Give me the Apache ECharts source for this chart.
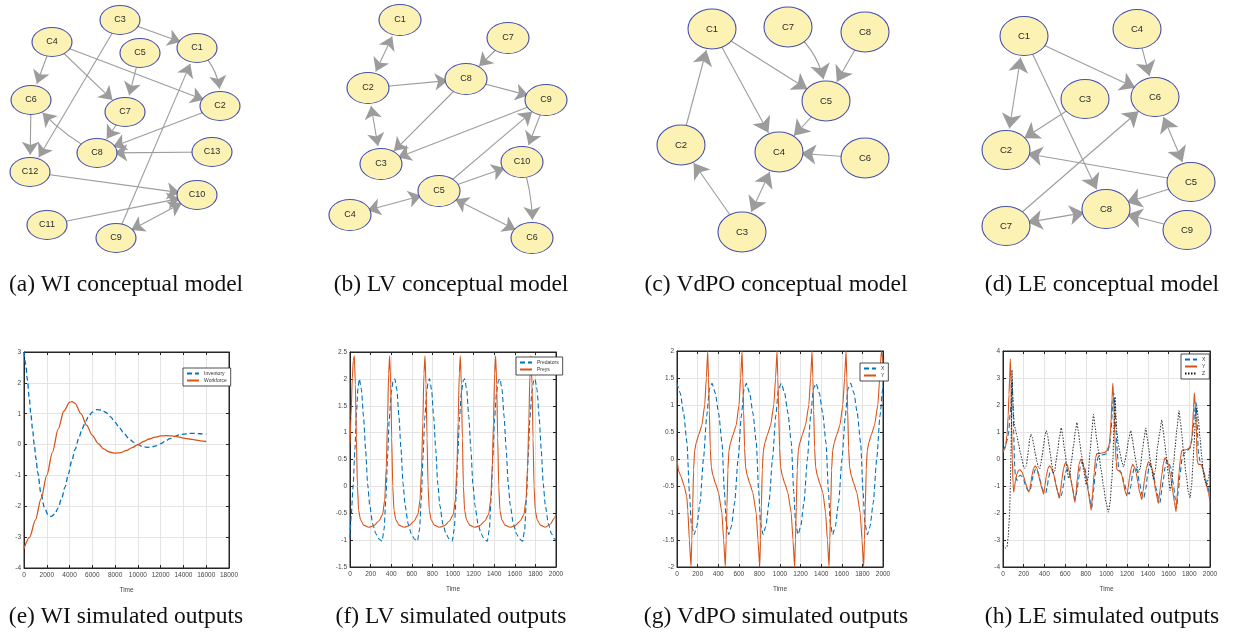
<!DOCTYPE html>
<html><head><meta charset="utf-8">
<script src="https://cdn.jsdelivr.net/npm/echarts@6/dist/echarts.min.js"></script>
<style>html,body{margin:0;padding:0;background:#fff}#c{width:1246px;height:637px}</style>
</head><body><div id="c"></div><script>
// ---------- conceptual model graphs: [name, layoutX, layoutY] ----------
const wiNodes = [['C1',197,48],['C2',220,106],['C3',120,20],['C4',52,42],['C5',140,53],['C6',31,100],['C7',125,112],['C8',97,153],['C9',116,238],['C10',197,195],['C11',47,225],['C12',30,172],['C13',212,152]];
// [source, target, bidirectional?, curveness]
const wiLinks = [['C3','C1'],['C3','C12'],['C4','C6'],['C4','C7'],['C4','C2'],['C5','C7'],['C1','C2',0,0.25],['C6','C12'],['C8','C6',0,0.1],['C7','C8'],['C2','C8'],['C13','C8'],['C12','C10'],['C11','C10'],['C9','C10',1],['C9','C1']];
const lvNodes = [['C1',80,20],['C2',48,88],['C3',61,164],['C4',30,215],['C5',119,191],['C6',212,238],['C7',188,38],['C8',146,79],['C9',226,100],['C10',202,162]];
const lvLinks = [['C1','C2',1],['C2','C3',1],['C2','C8'],['C7','C8'],['C8','C9'],['C8','C3'],['C9','C3'],['C9','C10'],['C5','C9'],['C5','C10'],['C4','C5',1],['C5','C6',1],['C10','C6',0,0.1]];
const vdpNodes = [['C1',72,29],['C2',41,145],['C3',102,232],['C4',139,152],['C5',186,101],['C6',225,158],['C7',148,27],['C8',225,32]];
const vdpLinks = [['C2','C1'],['C1','C5'],['C1','C4'],['C7','C5',0,0.25],['C8','C5'],['C5','C4'],['C6','C4'],['C3','C2'],['C3','C4',1]];
const leNodes = [['C1',54,36],['C2',36,150],['C3',115,99],['C4',167,29],['C5',221,182],['C6',185,97],['C7',36,226],['C8',136,209],['C9',217,230]];
const leLinks = [['C1','C2',1],['C1','C6'],['C1','C8'],['C4','C6'],['C3','C2'],['C7','C6'],['C6','C5',1],['C5','C2'],['C5','C8'],['C7','C8',1],['C9','C8']];

// ---------- simulated outputs: [time, value] ----------
const wiInventory = [[0,3.0],[150,2.6],[300,2.1],[450,1.55],[600,1.0],[750,0.5],[900,0.0],[1050,-0.45],[1200,-0.9],[1500,-1.6],[1800,-2.05],[2100,-2.27],[2400,-2.33],[2700,-2.25],[3000,-2.05],[3300,-1.75],[3600,-1.38],[3900,-0.95],[4200,-0.52],[4500,-0.15],[4800,0.2],[5100,0.5],[5400,0.75],[5700,0.93],[6000,1.05],[6400,1.13],[6800,1.12],[7200,1.04],[7600,0.9],[8000,0.72],[8400,0.53],[8800,0.35],[9200,0.2],[9600,0.08],[10000,0.0],[10400,-0.06],[10800,-0.09],[11200,-0.08],[11600,-0.04],[12000,0.03],[12400,0.11],[12800,0.19],[13200,0.26],[13600,0.31],[14000,0.34],[14500,0.36],[15000,0.36],[15500,0.35],[16000,0.34]];
const wiWorkforce = [[0,-3.37],[500,-3.0],[1000,-2.45],[1500,-1.75],[2000,-1.0],[2500,-0.25],[3000,0.5],[3500,1.08],[4000,1.37],[4200,1.39],[4500,1.33],[5000,1.0],[5500,0.62],[6000,0.3],[6500,0.04],[7000,-0.14],[7500,-0.24],[8000,-0.28],[8500,-0.26],[9000,-0.19],[9500,-0.1],[10000,0.0],[10500,0.1],[11000,0.18],[11500,0.24],[12000,0.28],[12500,0.29],[13000,0.28],[13500,0.25],[14000,0.21],[14500,0.18],[15000,0.15],[15500,0.12],[16000,0.1]];

const lvPredators = [[0,-0.95],[12,-0.55],[30,0.0],[48,0.7],[64,1.4],[78,1.85],[91,2.0],
[111,1.8],[131,1.3],[151,0.7],[171,0.05],[191,-0.35],[221,-0.7],[251,-0.88],[281,-0.98],[311,-1.02],[331,-0.8],[349,-0.2],[365,0.55],[381,1.25],[401,1.75],[419,1.97],[435,2.0],
[455,1.8],[475,1.3],[495,0.7],[515,0.05],[535,-0.35],[565,-0.7],[595,-0.88],[625,-0.98],[655,-1.02],[675,-0.8],[693,-0.2],[709,0.55],[725,1.25],[745,1.75],[760,1.97],[772,2.0],
[792,1.8],[812,1.3],[832,0.7],[852,0.05],[872,-0.35],[902,-0.7],[932,-0.88],[962,-0.98],[992,-1.02],[1012,-0.8],[1030,-0.2],[1046,0.55],[1062,1.25],[1082,1.75],[1100,1.97],[1113,2.0],
[1133,1.8],[1153,1.3],[1173,0.7],[1193,0.05],[1213,-0.35],[1243,-0.7],[1273,-0.88],[1303,-0.98],[1333,-1.02],[1353,-0.8],[1371,-0.2],[1387,0.55],[1403,1.25],[1423,1.75],[1441,1.97],[1456,2.0],
[1476,1.8],[1496,1.3],[1516,0.7],[1536,0.05],[1556,-0.35],[1586,-0.7],[1616,-0.88],[1646,-0.98],[1676,-1.02],[1696,-0.8],[1714,-0.2],[1730,0.55],[1746,1.25],[1766,1.75],[1783,1.97],[1796,2.0],
[1816,1.8],[1836,1.3],[1856,0.7],[1876,0.05],[1896,-0.35],[1926,-0.7],[1956,-0.88],[1986,-0.98],[2000,-1.0]];
const lvPreys = [[0,0.8],[10,1.3],[22,2.0],[32,2.35],[42,2.43],
[52,1.9],[62,0.9],[72,0.0],[84,-0.45],[102,-0.62],[132,-0.72],[182,-0.76],[232,-0.73],[282,-0.64],[317,-0.52],[337,-0.25],[352,0.35],[364,1.2],[375,2.1],[385,2.43],
[395,1.9],[405,0.9],[415,0.0],[427,-0.45],[445,-0.62],[475,-0.72],[525,-0.76],[575,-0.73],[625,-0.64],[660,-0.52],[680,-0.25],[695,0.35],[707,1.2],[718,2.1],[728,2.43],
[738,1.9],[748,0.9],[758,0.0],[770,-0.45],[788,-0.62],[818,-0.72],[868,-0.76],[918,-0.73],[968,-0.64],[1003,-0.52],[1023,-0.25],[1038,0.35],[1050,1.2],[1061,2.1],[1071,2.43],
[1081,1.9],[1091,0.9],[1101,0.0],[1113,-0.45],[1131,-0.62],[1161,-0.72],[1211,-0.76],[1261,-0.73],[1311,-0.64],[1346,-0.52],[1366,-0.25],[1381,0.35],[1393,1.2],[1404,2.1],[1414,2.43],
[1424,1.9],[1434,0.9],[1444,0.0],[1456,-0.45],[1474,-0.62],[1504,-0.72],[1554,-0.76],[1604,-0.73],[1654,-0.64],[1689,-0.52],[1709,-0.25],[1724,0.35],[1736,1.2],[1747,2.1],[1757,2.43],
[1767,1.9],[1777,0.9],[1787,0.0],[1799,-0.45],[1817,-0.62],[1847,-0.72],[1897,-0.76],[1947,-0.7],[1980,-0.6],[2000,-0.52]];

const vdpX = [[0,1.4],[32,1.22],[64,0.85],[97,0.3],[120,-0.6],[139,-1.2],[166,-1.4],
[192,-1.25],[224,-0.8],[257,0.0],[289,0.8],[315,1.3],[340,1.4],
[372,1.22],[404,0.85],[437,0.3],[460,-0.6],[479,-1.2],[502,-1.4],
[528,-1.25],[560,-0.8],[593,0.0],[625,0.8],[651,1.3],[673,1.4],
[705,1.22],[737,0.85],[770,0.3],[793,-0.6],[812,-1.2],[836,-1.4],
[862,-1.25],[894,-0.8],[927,0.0],[959,0.8],[985,1.3],[1013,1.4],
[1045,1.22],[1077,0.85],[1110,0.3],[1133,-0.6],[1152,-1.2],[1175,-1.4],
[1201,-1.25],[1233,-0.8],[1266,0.0],[1298,0.8],[1324,1.3],[1350,1.4],
[1382,1.22],[1414,0.85],[1447,0.3],[1470,-0.6],[1489,-1.2],[1511,-1.4],
[1537,-1.25],[1569,-0.8],[1602,0.0],[1634,0.8],[1660,1.3],[1686,1.4],
[1718,1.22],[1750,0.85],[1783,0.3],[1806,-0.6],[1825,-1.2],[1848,-1.4],
[1874,-1.25],[1906,-0.8],[1939,0.0],[1971,0.8],[1997,1.3],[2000,1.32]];
const vdpY = [[0,0.0],[15,-0.22],[40,-0.33],[70,-0.5],[95,-0.7],[105,-0.95],[120,-1.5],[136,-2.0],
[144,-1.5],[152,-0.9],[161,-0.2],[171,0.15],[186,0.3],[211,0.45],[241,0.62],[269,1.0],[285,1.5],[298,2.0],
[306,1.5],[314,0.9],[323,0.2],[333,-0.15],[348,-0.3],[373,-0.45],[403,-0.62],[436,-1.0],[453,-1.5],[469,-2.0],
[477,-1.5],[485,-0.9],[494,-0.2],[504,0.15],[519,0.3],[544,0.45],[574,0.62],[602,1.0],[618,1.5],[631,2.0],
[639,1.5],[647,0.9],[656,0.2],[666,-0.15],[681,-0.3],[706,-0.45],[736,-0.62],[769,-1.0],[786,-1.5],[803,-2.0],
[811,-1.5],[819,-0.9],[828,-0.2],[838,0.15],[853,0.3],[878,0.45],[908,0.62],[940,1.0],[957,1.5],[971,2.0],
[979,1.5],[987,0.9],[996,0.2],[1006,-0.15],[1021,-0.3],[1046,-0.45],[1076,-0.62],[1109,-1.0],[1126,-1.5],[1142,-2.0],
[1150,-1.5],[1158,-0.9],[1167,-0.2],[1177,0.15],[1192,0.3],[1217,0.45],[1247,0.62],[1280,1.0],[1297,1.5],[1311,2.0],
[1319,1.5],[1327,0.9],[1336,0.2],[1346,-0.15],[1361,-0.3],[1386,-0.45],[1416,-0.62],[1443,-1.0],[1460,-1.5],[1476,-2.0],
[1484,-1.5],[1492,-0.9],[1501,-0.2],[1511,0.15],[1526,0.3],[1551,0.45],[1581,0.62],[1610,1.0],[1627,1.5],[1641,2.0],
[1649,1.5],[1657,0.9],[1666,0.2],[1676,-0.15],[1691,-0.3],[1716,-0.45],[1746,-0.62],[1779,-1.0],[1796,-1.5],[1812,-2.0],
[1820,-1.5],[1828,-0.9],[1837,-0.2],[1847,0.15],[1862,0.3],[1887,0.45],[1917,0.62],[1950,1.0],[1968,1.5],[1984,2.0],[2000,1.8]];

const leX = [[0,0.3],[20,0.45],[40,0.7],[55,1.0],[70,1.7],[77,2.0],[87,2.9],[95,2.2],[103,1.0],[112,-0.2],[119,-0.6],[135,-0.8],[150,-0.65],[167,-0.6],[185,-0.65],[199,-0.75],[220,-1.0],[238,-1.15],[250,-1.2],[264,-1.15],[280,-0.8],[296,-0.55],[312,-0.38],[328,-0.38],[345,-0.55],[360,-0.8],[380,-1.1],[399,-1.25],[415,-1.25],[428,-1.0],[440,-0.7],[456,-0.45],[473,-0.42],[489,-0.55],[505,-0.8],[530,-1.25],[553,-1.45],[568,-1.3],[585,-0.95],[600,-0.55],[617,-0.38],[633,-0.42],[649,-0.6],[670,-1.05],[690,-1.45],[698,-1.5],[714,-1.2],[730,-0.75],[746,-0.3],[762,-0.12],[780,-0.2],[804,-0.55],[830,-1.3],[850,-1.75],[858,-1.8],[874,-1.2],[890,-0.6],[906,-0.1],[923,0.1],[950,0.15],[980,0.17],[1003,0.2],[1030,0.5],[1045,1.1],[1058,1.9],[1070,2.45],[1080,2.0],[1093,1.0],[1105,0.2],[1116,-0.3],[1132,-0.45],[1148,-0.55],[1170,-0.9],[1196,-1.2],[1219,-1.3],[1235,-1.0],[1250,-0.6],[1266,-0.35],[1280,-0.3],[1296,-0.45],[1320,-0.9],[1345,-1.35],[1360,-1.45],[1380,-1.1],[1398,-0.55],[1415,-0.2],[1430,-0.3],[1450,-0.5],[1480,-1.1],[1505,-1.5],[1518,-1.6],[1535,-1.1],[1550,-0.75],[1566,-0.3],[1582,-0.05],[1600,-0.15],[1620,-0.3],[1645,-0.9],[1665,-1.5],[1678,-1.8],[1693,-1.2],[1710,-0.6],[1730,0.0],[1749,0.2],[1775,0.3],[1807,0.4],[1825,0.7],[1839,1.2],[1852,1.8],[1865,2.1],[1876,1.3],[1887,0.3],[1900,-0.05],[1915,-0.15],[1942,-0.5],[1974,-1.0],[2000,-1.4]];
const leY = [[0,0.25],[22,0.4],[39,0.9],[50,1.6],[58,2.4],[64,3.0],[71,3.7],[77,2.8],[82,1.5],[90,0.0],[97,-0.9],[103,-1.23],[111,-1.05],[120,-0.8],[135,-0.55],[150,-0.42],[165,-0.4],[183,-0.48],[200,-0.65],[215,-0.85],[232,-1.05],[248,-1.22],[258,-1.15],[268,-0.9],[280,-0.6],[295,-0.35],[312,-0.25],[328,-0.35],[344,-0.6],[360,-0.85],[376,-1.1],[392,-1.3],[405,-1.0],[418,-0.65],[434,-0.35],[450,-0.25],[470,-0.35],[489,-0.55],[505,-0.85],[521,-1.12],[543,-1.45],[555,-1.2],[569,-0.75],[585,-0.35],[601,-0.15],[617,-0.2],[633,-0.35],[655,-0.75],[675,-1.15],[694,-1.6],[705,-1.3],[720,-0.65],[735,-0.2],[752,0.0],[768,-0.1],[784,-0.35],[805,-0.75],[826,-1.25],[840,-1.6],[852,-1.9],[865,-1.3],[881,-0.5],[895,0.05],[907,0.2],[930,0.2],[955,0.22],[980,0.24],[1003,0.3],[1020,0.45],[1029,0.6],[1038,1.0],[1045,1.5],[1053,2.2],[1061,2.8],[1068,2.3],[1074,1.6],[1080,0.9],[1087,0.3],[1094,-0.1],[1100,-0.38],[1112,-0.42],[1125,-0.45],[1138,-0.5],[1148,-0.6],[1165,-0.9],[1180,-1.2],[1196,-1.37],[1210,-1.05],[1222,-0.7],[1238,-0.35],[1254,-0.2],[1270,-0.3],[1286,-0.5],[1303,-0.85],[1318,-1.2],[1341,-1.5],[1353,-1.2],[1366,-0.8],[1385,-0.35],[1405,-0.1],[1421,-0.15],[1437,-0.3],[1456,-0.7],[1476,-1.2],[1501,-1.65],[1515,-1.2],[1534,-0.6],[1550,-0.15],[1566,0.05],[1582,-0.05],[1598,-0.2],[1620,-0.65],[1640,-1.2],[1656,-1.6],[1672,-1.95],[1686,-1.2],[1701,-0.5],[1714,0.0],[1726,0.3],[1750,0.33],[1775,0.35],[1795,0.4],[1813,0.5],[1825,0.8],[1833,1.3],[1841,1.9],[1849,2.45],[1857,2.0],[1865,1.5],[1870,0.8],[1875,0.0],[1882,-0.15],[1890,-0.2],[1905,-0.2],[1919,-0.22],[1935,-0.4],[1951,-0.7],[1968,-1.0],[1985,-1.25],[2000,-1.6]];
const leZ = [[0,-3.2],[20,-3.3],[39,-3.25],[50,-2.9],[58,-2.4],[64,-2.0],[71,-1.0],[77,0.2],[82,1.5],[87,3.3],[93,2.5],[100,1.7],[110,1.3],[119,1.1],[135,0.85],[151,0.55],[167,0.25],[183,0.0],[199,-0.3],[212,-0.35],[225,-0.25],[238,0.1],[248,0.4],[258,0.75],[270,0.92],[283,0.8],[296,0.55],[312,0.2],[328,-0.1],[341,-0.3],[354,-0.37],[366,-0.15],[380,0.15],[392,0.5],[405,0.85],[418,1.05],[430,0.9],[444,0.55],[457,0.2],[473,-0.25],[489,-0.52],[500,-0.45],[514,-0.05],[527,0.3],[545,0.8],[563,1.15],[578,0.85],[590,0.45],[601,0.2],[617,-0.3],[633,-0.72],[646,-0.6],[660,-0.1],[682,0.5],[698,1.0],[714,1.35],[728,1.05],[742,0.6],[756,0.2],[780,-0.45],[804,-0.95],[820,-0.75],[842,0.3],[858,1.0],[874,1.65],[890,1.2],[906,0.7],[923,0.3],[947,-0.4],[971,-1.0],[995,-1.6],[1019,-1.97],[1035,-1.6],[1051,-0.8],[1062,0.0],[1072,1.2],[1083,2.3],[1092,1.6],[1100,1.0],[1116,0.5],[1132,0.2],[1148,-0.1],[1164,-0.3],[1180,-0.05],[1196,0.3],[1215,0.75],[1235,1.05],[1250,0.75],[1263,0.4],[1276,0.1],[1292,-0.25],[1309,-0.5],[1325,-0.35],[1350,0.4],[1365,0.8],[1379,1.15],[1395,0.75],[1408,0.4],[1421,0.0],[1437,-0.4],[1453,-0.75],[1470,-0.45],[1495,0.5],[1515,1.0],[1534,1.45],[1550,1.0],[1562,0.6],[1575,0.2],[1595,-0.5],[1614,-1.17],[1630,-0.9],[1650,-0.1],[1662,0.4],[1680,1.1],[1701,1.79],[1715,1.35],[1728,0.9],[1743,0.3],[1770,-0.6],[1790,-1.2],[1807,-1.44],[1822,-1.0],[1835,-0.2],[1845,0.5],[1858,1.4],[1871,1.98],[1887,1.5],[1903,0.8],[1920,0.1],[1935,-0.5],[1952,-0.85],[1968,-1.0],[1985,-0.7],[2000,-0.3]];

const topCaptions = ['(a) WI conceptual model','(b) LV conceptual model','(c) VdPO conceptual model','(d) LE conceptual model'];
const bottomCaptions = ['(e) WI simulated outputs','(f) LV simulated outputs','(g) VdPO simulated outputs','(h) LE simulated outputs'];
const axisName = 'Time';

// ---------- layout ----------
const panelLeft = [0, 320, 640, 970];
const captionX = [126, 451, 776, 1102];
const plotBoxes = [[24,352,205,216],[350,352,206,215],[677,351,206,216],[1003,351,207,216]];
const yRanges = [[-4,3,1],[-1.5,2.5,0.5],[-2,2,0.5],[-4,4,1]];
const xRanges = [[0,18000,2000],[0,2000,200],[0,2000,200],[0,2000,200]];

const BLUE = '#0072BD', ORANGE = '#D95319', AX = '#262626';
const grids = [], xAxes = [], yAxes = [], series = [];

panelLeft.forEach((l, i) => {
  grids.push({left: l, top: 0, width: 270, height: 260, show: false});
  xAxes.push({gridIndex: i, type: 'value', min: 0, max: 270, show: false});
  yAxes.push({gridIndex: i, type: 'value', min: 0, max: 260, inverse: true, show: false});
});
const fontTick = '"Liberation Sans Narrow","Liberation Sans",sans-serif';
const lab = {fontSize: 6.5, color: '#444', fontFamily: fontTick, formatter: v => String(v)};
const axLine = {show: true, onZero: false, lineStyle: {color: AX, width: 1}};
const axTick = {show: true, inside: true, length: 3, lineStyle: {color: AX}};
plotBoxes.forEach((b, i) => {
  const gi = 4 + i, xr = xRanges[i], yr = yRanges[i];
  grids.push({left: b[0], top: b[1], width: b[2], height: b[3], show: true, borderColor: AX, borderWidth: 1});
  xAxes.push({gridIndex: gi, type: 'value', min: xr[0], max: xr[1], interval: xr[2], position: 'bottom',
    axisLine: axLine, axisTick: axTick, axisLabel: Object.assign({margin: 4}, lab),
    splitLine: {show: true, lineStyle: {color: '#e4e4e4', width: 1}},
    name: axisName, nameLocation: 'middle', nameGap: 19, nameTextStyle: {fontSize: 6.5, color: '#444', fontFamily: fontTick}});
  yAxes.push({gridIndex: gi, type: 'value', min: yr[0], max: yr[1], interval: yr[2], position: 'left',
    axisLine: axLine, axisTick: axTick, axisLabel: Object.assign({margin: 3}, lab),
    splitLine: {show: true, lineStyle: {color: '#e4e4e4', width: 1}}});
});
plotBoxes.forEach((b, i) => {
  const gi = 4 + i, xr = xRanges[i], yr = yRanges[i];
  xAxes.push({gridIndex: gi, type: 'value', min: xr[0], max: xr[1], interval: xr[2], position: 'top',
    axisLine: axLine, axisTick: axTick, axisLabel: {show: false}, splitLine: {show: false}});
  yAxes.push({gridIndex: gi, type: 'value', min: yr[0], max: yr[1], interval: yr[2], position: 'right',
    axisLine: axLine, axisTick: axTick, axisLabel: {show: false}, splitLine: {show: false}});
});

function diagram(idx, nodes, links, nodeSize, arrowSize, fontSize) {
  return {
    type: 'graph', coordinateSystem: 'cartesian2d', xAxisIndex: idx, yAxisIndex: idx,
    symbol: 'circle', symbolSize: nodeSize, edgeSymbol: ['none', 'arrow'], edgeSymbolSize: arrowSize,
    data: nodes.map(n => ({name: n[0], value: [n[1], n[2]]})),
    links: links.map(l => {
      const o = {source: l[0], target: l[1], symbol: l[2] ? ['arrow', 'arrow'] : ['none', 'arrow']};
      if (l[3]) o.lineStyle = {curveness: l[3]};
      return o;
    }),
    itemStyle: {color: '#FBF2B3', borderColor: '#4650AE', borderWidth: 1},
    label: {show: true, position: 'inside', color: '#2b2b2b', fontSize: fontSize, fontFamily: '"Liberation Sans",Arial,sans-serif'},
    lineStyle: {color: '#9c9c9c', width: 1.1, opacity: 1, curveness: 0},
    emphasis: {disabled: true}, silent: true, animation: false
  };
}
series.push(diagram(0, wiNodes, wiLinks, [40, 29], 13, 9));
series.push(diagram(1, lvNodes, lvLinks, [42, 31], 13, 9));
series.push(diagram(2, vdpNodes, vdpLinks, [48, 40], 15, 9.5));
series.push(diagram(3, leNodes, leLinks, [48, 39], 15, 9.5));

function line(name, gi, data, color, type, width, smooth) {
  return {type: 'line', name: name, xAxisIndex: gi, yAxisIndex: gi, data: data, showSymbol: false, symbol: 'none',
    smooth: smooth, smoothMonotone: 'x', lineStyle: {color: color, width: width, type: type}, itemStyle: {color: color},
    animation: false, silent: true, clip: true};
}
series.push(line('Inventory', 4, wiInventory, BLUE, [5, 3], 1.3, 0.3));
series.push(line('Workforce', 4, wiWorkforce, ORANGE, 'solid', 1.3, 0.3));
series.push(line('Predators', 5, lvPredators, BLUE, [5, 3], 1.1, 0.2));
series.push(line('Preys', 5, lvPreys, ORANGE, 'solid', 1.1, 0.2));
series.push(line('X', 6, vdpX, BLUE, [5, 3], 1.1, 0.2));
series.push(line('Y', 6, vdpY, ORANGE, 'solid', 1.1, 0.15));
series.push(line('X', 7, leX, BLUE, [5, 3], 1.1, 0.2));
series.push(line('Y', 7, leY, ORANGE, 'solid', 1.1, 0.2));
series.push(line('Z', 7, leZ, '#111', [1.5, 1.5], 0.9, 0.2));

const legendBase = {orient: 'vertical', itemWidth: 12, itemHeight: 5, itemGap: 2, selectedMode: false,
  itemStyle: {color: 'rgba(0,0,0,0)', borderWidth: 0, opacity: 0},
  textStyle: {fontSize: 5, color: '#333', fontFamily: '"Liberation Sans",sans-serif'}, padding: [3, 4, 3, 3],
  borderColor: '#222', borderWidth: 0.8, backgroundColor: '#fff'};
const legends = [
  Object.assign({}, legendBase, {left: 183, top: 368, data: ['Inventory', 'Workforce']}),
  Object.assign({}, legendBase, {left: 516, top: 357, data: ['Predators', 'Preys']}),
  Object.assign({}, legendBase, {left: 860, top: 363, data: ['X', 'Y']}),
  Object.assign({}, legendBase, {left: 1181, top: 354, data: ['X', 'Y', 'Z']})
];

const graphic = [];
const capFont = '23.5px "Liberation Serif","Times New Roman",serif';
topCaptions.forEach((t, i) => graphic.push({type: 'text', x: captionX[i], y: 285, style: {text: t, font: capFont, fill: '#111', align: 'center', verticalAlign: 'middle'}}));
bottomCaptions.forEach((t, i) => graphic.push({type: 'text', x: captionX[i], y: 617, style: {text: t, font: capFont, fill: '#111', align: 'center', verticalAlign: 'middle'}}));

const chart = echarts.init(document.getElementById('c'), null, {renderer: 'canvas'});
chart.setOption({animation: false, backgroundColor: '#fff', grid: grids, xAxis: xAxes, yAxis: yAxes, legend: legends, series: series, graphic: graphic});
</script></body></html>
